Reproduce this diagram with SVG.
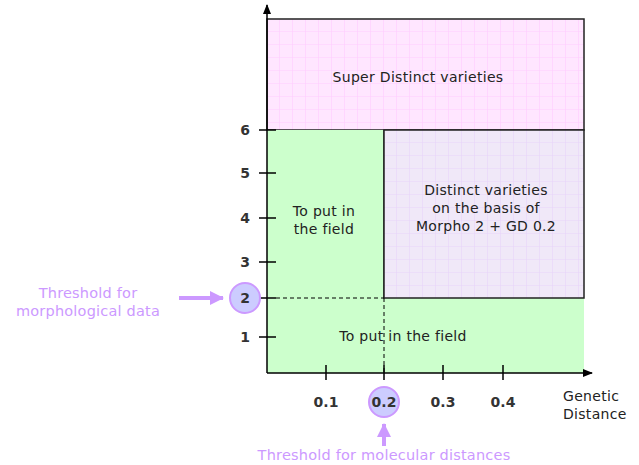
<svg xmlns="http://www.w3.org/2000/svg" width="639" height="465" viewBox="0 0 639 465">
<style>
.t{font-family:"DejaVu Sans",Verdana,sans-serif;font-size:14px;letter-spacing:0.3px;fill:#222;text-anchor:middle}
.n{font-family:"DejaVu Sans",Verdana,sans-serif;font-size:14px;font-weight:bold;fill:#333;text-anchor:middle}
.p{font-family:"DejaVu Sans",Verdana,sans-serif;font-size:14.5px;letter-spacing:0.2px;fill:#cc99ff;text-anchor:middle}
.ax{stroke:#000;stroke-width:1.5;fill:none}
.bx{stroke:#222;stroke-width:1.5}
.dash{stroke:#000;stroke-width:1;stroke-dasharray:4 3;fill:none}
.circ{fill:#ccccff;stroke:#cc99ff;stroke-width:2}
</style>
<defs>
<pattern id="pinkgrid" width="13" height="13" patternUnits="userSpaceOnUse" x="267" y="19">
<rect width="13" height="13" fill="#ffe6ff"/>
<path d="M13 0V13M0 13H13" stroke="#ffccff" stroke-width="1.2"/>
</pattern>
<pattern id="purpgrid" width="13" height="13" patternUnits="userSpaceOnUse" x="384" y="130">
<rect width="13" height="13" fill="#f0e8f8"/>
<path d="M13 0V13M0 13H13" stroke="#e8d4fa" stroke-width="1.2"/>
</pattern>
<marker id="ah" markerWidth="10" markerHeight="10" refX="9" refY="5" orient="auto" markerUnits="userSpaceOnUse">
<path d="M0 1 L10 5 L0 9 Z" fill="#000"/>
</marker>
<marker id="ph" markerWidth="14" markerHeight="14" refX="13" refY="7" orient="auto" markerUnits="userSpaceOnUse">
<path d="M0 0 L14 7 L0 14 Z" fill="#cc99ff"/>
</marker>
</defs>

<g id="super-distinct">
<rect x="267" y="19" width="317" height="111" fill="url(#pinkgrid)" class="bx"/>
<text class="t" x="418" y="82">Super Distinct varieties</text>
</g>
<g id="field-bottom">
<rect x="267" y="298" width="317" height="75" fill="#ccffcc"/>
<text class="t" x="403" y="341">To put in the field</text>
</g>
<g id="field-left">
<rect x="267" y="130" width="117" height="168" fill="#ccffcc"/>
<line x1="384" y1="130" x2="384" y2="298" class="bx"/>
<text class="t" x="324" y="216">To put in</text>
<text class="t" x="324" y="234">the field</text>
</g>
<g id="distinct">
<rect x="384" y="130" width="200" height="168" fill="url(#purpgrid)" class="bx"/>
<text class="t" x="486" y="195">Distinct varieties</text>
<text class="t" x="486" y="213">on the basis of</text>
<text class="t" x="486" y="231">Morpho 2 + GD 0.2</text>
</g>

<g id="connectors">
<line x1="267" y1="373" x2="267" y2="5" class="ax" marker-end="url(#ah)"/>
<line x1="267" y1="373" x2="592" y2="373" class="ax" marker-end="url(#ah)"/>
<line x1="259" y1="130" x2="276" y2="130" class="ax"/>
<line x1="259" y1="173" x2="276" y2="173" class="ax"/>
<line x1="259" y1="218" x2="276" y2="218" class="ax"/>
<line x1="259" y1="262" x2="276" y2="262" class="ax"/>
<line x1="259" y1="298" x2="276" y2="298" class="ax"/>
<line x1="259" y1="337" x2="276" y2="337" class="ax"/>
<line x1="326" y1="365" x2="326" y2="380" class="ax"/>
<line x1="384" y1="365" x2="384" y2="380" class="ax"/>
<line x1="443" y1="365" x2="443" y2="380" class="ax"/>
<line x1="503" y1="365" x2="503" y2="380" class="ax"/>
<line x1="276" y1="298" x2="384" y2="298" class="dash"/>
<line x1="384" y1="298" x2="384" y2="373" class="dash"/>
<line x1="179" y1="298" x2="223" y2="298" stroke="#cc99ff" stroke-width="4" marker-end="url(#ph)"/>
<line x1="384" y1="446" x2="384" y2="424" stroke="#cc99ff" stroke-width="4" marker-end="url(#ph)"/>
</g>

<g id="y-labels">
<text class="n" x="245" y="135">6</text>
<text class="n" x="245" y="178">5</text>
<text class="n" x="245" y="223">4</text>
<text class="n" x="245" y="267">3</text>
<circle cx="245" cy="298" r="15" class="circ"/>
<text class="n" x="245" y="303">2</text>
<text class="n" x="245" y="342">1</text>
</g>
<g id="x-labels">
<text class="n" x="326" y="407">0.1</text>
<circle cx="384" cy="402" r="15" class="circ"/>
<text class="n" x="384" y="407">0.2</text>
<text class="n" x="443" y="407">0.3</text>
<text class="n" x="503" y="407">0.4</text>
<text class="t" x="563" y="401" style="text-anchor:start">Genetic</text>
<text class="t" x="563" y="419" style="text-anchor:start">Distance</text>
</g>
<g id="threshold-morph">
<text class="p" x="88" y="298">Threshold for</text>
<text class="p" x="88" y="316">morphological data</text>
</g>
<g id="threshold-mol">
<text class="p" x="384" y="460">Threshold for molecular distances</text>
</g>
</svg>
